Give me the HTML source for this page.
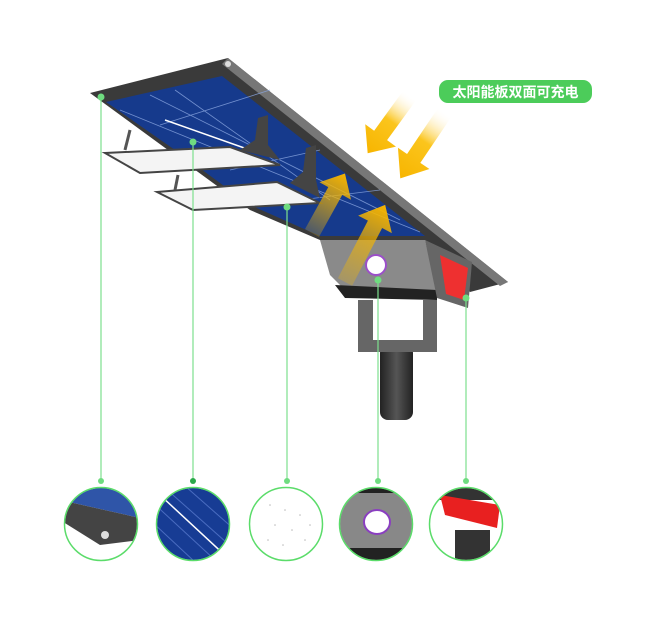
<!DOCTYPE html>
<html><head><meta charset="utf-8"><style>
html,body{margin:0;padding:0;background:#fff;width:650px;height:630px;overflow:hidden}
</style></head><body>
<svg width="650" height="630" viewBox="0 0 650 630" xmlns="http://www.w3.org/2000/svg">
<defs>
<linearGradient id="sun" x1="0" y1="0" x2="1" y2="0"><stop offset="0" stop-color="#fff" stop-opacity="0"/><stop offset="0.45" stop-color="#fbc51d"/><stop offset="1" stop-color="#f7b500"/></linearGradient>
<linearGradient id="up" x1="0" y1="0" x2="1" y2="0"><stop offset="0" stop-color="#f5b800" stop-opacity="0.25"/><stop offset="1" stop-color="#f7b500"/></linearGradient>
<linearGradient id="pole" x1="0" x2="1"><stop offset="0" stop-color="#222"/><stop offset="0.5" stop-color="#555"/><stop offset="1" stop-color="#222"/></linearGradient>
<clipPath id="c1"><circle cx="101" cy="524" r="36"/></clipPath>
<clipPath id="c2"><circle cx="193" cy="524" r="36"/></clipPath>
<clipPath id="c4"><circle cx="376" cy="524" r="36"/></clipPath>
<clipPath id="c5"><circle cx="466" cy="524" r="36"/></clipPath>
</defs>
<!-- panel frame -->
<polygon points="90,93 228,58 508,282 470,292 425,240 320,240 250,210" fill="#3a3a3a"/>
<polygon points="228,58 508,282 500,286 222,64" fill="#777"/>
<polygon points="106,102 222,76 425,236 320,236 250,205 175,150" fill="#163a8c"/>
<g stroke="#8aa6e0" stroke-width="0.8" opacity="0.8">
<line x1="120" y1="110" x2="420" y2="232"/><line x1="150" y1="95" x2="400" y2="220"/><line x1="175" y1="90" x2="330" y2="200"/>
<line x1="160" y1="125" x2="270" y2="90"/><line x1="230" y1="170" x2="320" y2="150"/><line x1="300" y1="200" x2="380" y2="190"/>
</g>
<line x1="165" y1="120" x2="250" y2="150" stroke="#fff" stroke-width="1.5"/>
<circle cx="228" cy="64" r="3" fill="#ddd"/>
<!-- lamps -->
<polygon points="105,153 230,147 280,165 140,173" fill="#f4f4f4" stroke="#444" stroke-width="2"/>
<polygon points="240,150 255,140 258,118 268,115 268,145 280,160" fill="#444"/>
<polygon points="157,192 277,182 320,203 193,210" fill="#f4f4f4" stroke="#444" stroke-width="2"/>
<polygon points="290,183 303,172 306,148 316,145 316,180 320,198" fill="#444"/>
<line x1="125" y1="150" x2="130" y2="130" stroke="#555" stroke-width="3"/>
<line x1="175" y1="190" x2="178" y2="175" stroke="#555" stroke-width="3"/>
<!-- box -->
<polygon points="320,240 425,240 437,290 345,290 330,275" fill="#8a8a8a"/>
<polygon points="335,285 437,290 437,300 345,298" fill="#222"/>
<polygon points="425,240 472,262 468,308 437,298" fill="#666"/>
<polygon points="440,255 468,268 464,300 446,294" fill="#ee3030"/>
<circle cx="376" cy="265" r="10" fill="#fff" stroke="#9b4fc9" stroke-width="2"/>
<!-- bracket & pole -->
<rect x="380" y="345" width="33" height="75" rx="8" fill="url(#pole)"/>
<path d="M358,300 h15 v40 h50 v-40 h14 v52 h-79z" fill="#666"/>
<!-- arrows -->
<g transform="translate(410,95) rotate(126)"><polygon points="0,-8 50,-8 50,-19 72,0 50,19 50,8 0,8" fill="url(#sun)"/></g>
<g transform="translate(445,112) rotate(124)"><polygon points="0,-8 56,-8 56,-19 80,0 56,19 56,8 0,8" fill="url(#sun)"/></g>
<g transform="translate(312,233) rotate(-61)"><polygon points="0,-8 48,-8 48,-18 68,0 48,18 48,8 0,8" fill="url(#up)"/></g>
<g transform="translate(345,282) rotate(-62.5)"><polygon points="0,-8 65,-8 65,-19 87,0 65,19 65,8 0,8" fill="url(#up)"/></g>
<!-- label -->
<rect x="439" y="80" width="153" height="23" rx="9" fill="#4ccc5a"/>
<text x="515.5" y="97" text-anchor="middle" font-family="'Liberation Sans','Noto Sans CJK SC',sans-serif" font-size="14" font-weight="bold" fill="#fff">太阳能板双面可充电</text>
<!-- leader lines -->
<g stroke="#7de08e" stroke-width="1.2">
<line x1="101" y1="97" x2="101" y2="480"/><line x1="193" y1="142" x2="193" y2="480"/>
<line x1="287" y1="207" x2="287" y2="480"/><line x1="378" y1="280" x2="378" y2="480"/><line x1="466" y1="298" x2="466" y2="480"/>
</g>
<g fill="#6fdc80">
<circle cx="101" cy="97" r="3.5"/><circle cx="193" cy="142" r="3.5"/><circle cx="287" cy="207" r="3.5"/><circle cx="378" cy="280" r="3.5"/><circle cx="466" cy="298" r="3.5"/>
<circle cx="101" cy="481" r="3"/><circle cx="193" cy="481" r="3" fill="#2aa84a"/><circle cx="287" cy="481" r="3"/><circle cx="378" cy="481" r="3"/><circle cx="466" cy="481" r="3"/>
</g>
<!-- detail circles -->
<g clip-path="url(#c1)"><rect x="60" y="485" width="90" height="80" fill="#fff"/>
<polygon points="60,485 140,485 140,518 60,500" fill="#2f55a8"/>
<polygon points="60,500 140,518 140,540 100,545 60,520" fill="#444"/><circle cx="105" cy="535" r="4" fill="#ddd"/></g>
<g clip-path="url(#c2)"><rect x="150" y="485" width="90" height="80" fill="#173c94"/>
<g stroke="#4a6cc0" stroke-width="1"><line x1="150" y1="500" x2="215" y2="560"/><line x1="165" y1="488" x2="235" y2="550"/><line x1="150" y1="520" x2="195" y2="562"/><line x1="185" y1="486" x2="235" y2="530"/></g>
<line x1="160" y1="495" x2="230" y2="560" stroke="#fff" stroke-width="1.5"/></g>
<g fill="#bbb"><circle cx="270" cy="505" r="0.8"/><circle cx="285" cy="510" r="0.8"/><circle cx="300" cy="515" r="0.8"/><circle cx="275" cy="525" r="0.8"/><circle cx="292" cy="530" r="0.8"/><circle cx="305" cy="540" r="0.8"/><circle cx="268" cy="540" r="0.8"/><circle cx="283" cy="545" r="0.8"/><circle cx="310" cy="525" r="0.8"/></g>
<g clip-path="url(#c4)"><rect x="335" y="485" width="90" height="80" fill="#888"/>
<rect x="335" y="485" width="90" height="8" fill="#222"/><rect x="335" y="548" width="90" height="15" fill="#222"/>
<ellipse cx="377" cy="522" rx="13" ry="12" fill="#fff" stroke="#8a3fc0" stroke-width="2"/></g>
<g clip-path="url(#c5)"><rect x="425" y="485" width="90" height="80" fill="#fff"/>
<polygon points="425,485 510,485 510,500 425,500" fill="#333"/>
<polygon points="440,495 500,505 497,528 445,515" fill="#e82020"/>
<polygon points="455,530 490,530 490,565 455,565" fill="#333"/></g>
<g fill="none" stroke="#5bdc6a" stroke-width="1.5">
<circle cx="101" cy="524" r="36.5"/><circle cx="193" cy="524" r="36.5"/><circle cx="286" cy="524" r="36.5"/><circle cx="376" cy="524" r="36.5"/><circle cx="466" cy="524" r="36.5"/>
</g>
</svg>
</body></html>
